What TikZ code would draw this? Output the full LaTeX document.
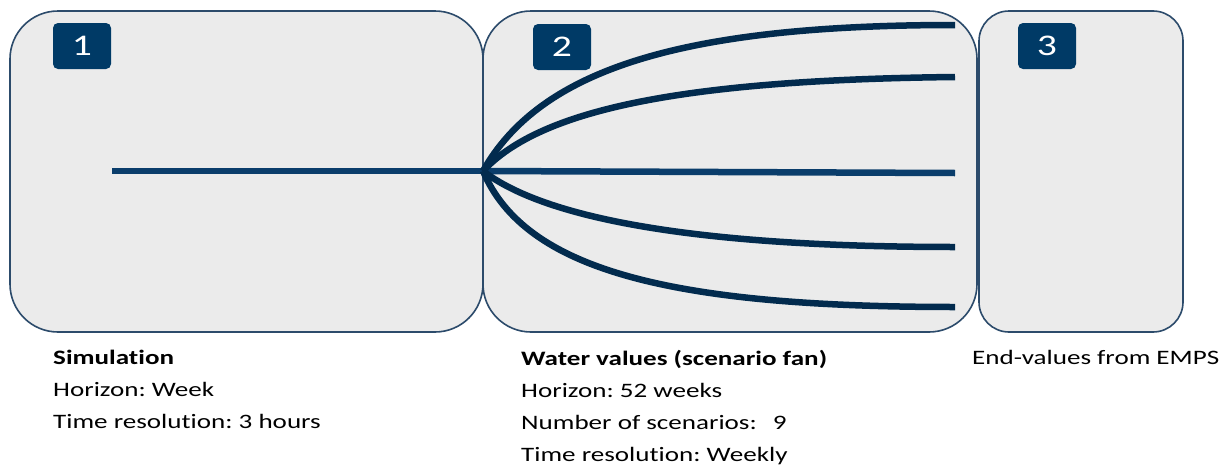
\documentclass[tikz,border=0pt]{standalone}
\usepackage{fontspec}
\setmainfont{Carlito}[FakeStretch=1.32, Ligatures=NoCommon]
\frenchspacing

\definecolor{badgeblue}{HTML}{003A66}
\definecolor{fanblue}{HTML}{022B4E}
\definecolor{midblue}{HTML}{0A3D6B}
\definecolor{panelgray}{HTML}{EBEBEB}
\definecolor{paneledge}{HTML}{2C4B6B}

\begin{document}
\begin{tikzpicture}[x=1pt, y=-1pt,
	phase/.style={draw=paneledge, line width=1.6pt, fill=panelgray, inner sep=0pt},
	badge/.style={fill=badgeblue, rounded corners=5pt, minimum width=58pt, minimum height=46pt,
		text=white, font=\fontsize{30}{30}\selectfont, inner sep=0pt},
	fan/.style={draw=fanblue, line width=6.5pt},
	info/.style={anchor=north west, align=left, inner sep=0pt, font=\fontsize{20.5}{32}\selectfont}]

	\useasboundingbox (0,0) rectangle (1226,466);

	% --- Panneaux ---
	\node[phase, minimum width=473pt, minimum height=321pt, rounded corners=48pt] (sim) at (246.5,171.5) {};
	\node[phase, minimum width=494pt, minimum height=321pt, rounded corners=48pt] (wv) at (730,171.5) {};
	\node[phase, minimum width=204pt, minimum height=321pt, rounded corners=30pt] (emps) at (1081,171.5) {};

	% Numéros
	\node[badge] (n1) at (82,46) {1};
	\node[badge] (n2) at (562,47) {2};
	\node[badge] (n3) at (1047,46) {3};

	% --- Eventail de scénarios ---
	\coordinate (start) at (112,171);
	\coordinate (fan) at (483,171);
	\coordinate (s1) at (955,25);
	\coordinate (s2) at (955,77);
	\coordinate (s3) at (955,173);
	\coordinate (s4) at (955,247);
	\coordinate (s5) at (955,307);

	\draw[fan, draw=midblue] (start) -- (fan); % simulation
	\draw[fan, draw=midblue] (fan) -- (s3);
	\draw[fan] (fan) .. controls (540,70) and (680,25) .. (s1);
	\draw[fan] (fan) .. controls (540,110) and (680,80) .. (s2);
	\draw[fan] (fan) .. controls (540,215) and (680,247) .. (s4);
	\draw[fan] (fan) .. controls (525,270) and (670,307) .. (s5);

	% --- Textes ---
	\node[info] (simtxt) at (53,350) {\textbf{Simulation}\\Horizon: Week\\Time resolution: 3 hours};
	\node[info] (wvtxt) at (521,350) {\textbf{Water values (scenario fan)}\\Horizon: 52 weeks\\
		Number of scenarios:\hspace{16pt}9\\Time resolution: Weekly};
	\node[info] (empstxt) at (972,350) {End-values from EMPS};
\end{tikzpicture}
\end{document}
